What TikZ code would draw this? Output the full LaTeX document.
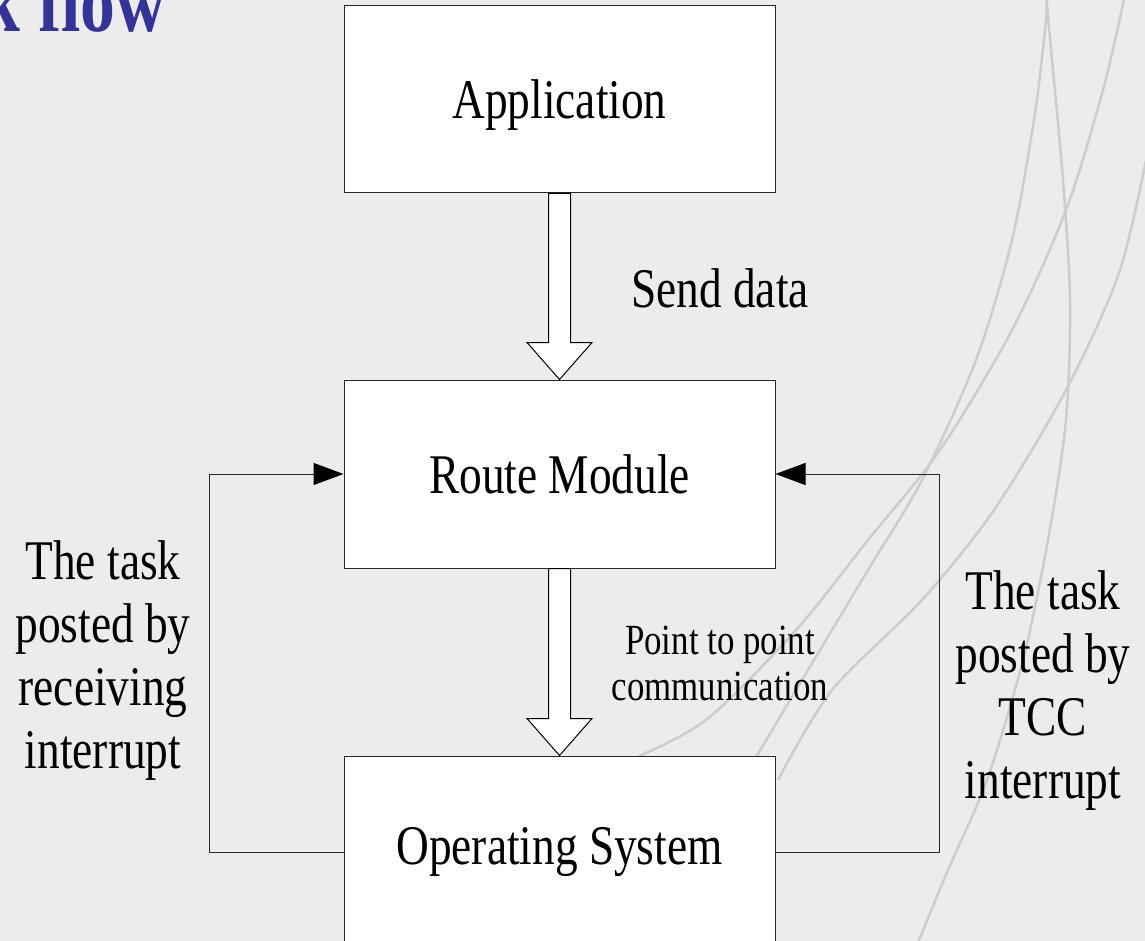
\documentclass[tikz,border=0pt]{standalone}
\usepackage{fontspec}
\setmainfont{Liberation Serif}[FakeStretch=0.81]
\usetikzlibrary{arrows.meta,calc}
\definecolor{bgcol}{RGB}{236,236,236}
\definecolor{curvecol}{RGB}{205,205,205}
\definecolor{titleblue}{RGB}{51,51,153}
\definecolor{linecol}{RGB}{40,40,40}
\tikzset{
  box/.style={draw=linecol, line width=1pt, fill=white, minimum width=431pt, inner sep=0pt,
    font=\fontsize{56}{63}\selectfont},
  lbl/.style={align=center, inner sep=0pt, font=\fontsize{56}{63}\selectfont},
  smalllbl/.style={align=center, inner sep=0pt, font=\fontsize{43}{46}\selectfont},
  blockarrow/.style={draw=black, line width=1pt, fill=white, line join=miter},
  conn/.style={draw=linecol, line width=1pt, -{Triangle[length=30pt,width=22pt,fill=black,color=black]}},
  bgcurve/.style={draw=curvecol, line width=2.5pt}
}
\begin{document}
\begin{tikzpicture}[x=1pt,y=-1pt]
\clip (0,0) rectangle (1145,941);
\fill[bgcol] (0,0) rectangle (1145,941);
% background curves
\draw[bgcurve] plot[smooth] coordinates {(1046,-5) (1052,60) (1063,180) (1070,300) (1066,420) (1048,540) (1023,660) (987,780) (948,870) (915,950)};
\draw[bgcurve] plot[smooth] coordinates {(1047,-5) (1045,30) (1034,120) (1012,240) (976,360) (922,480) (868,570) (796,690) (742,780) (700,840)};
\draw[bgcurve] plot[smooth] coordinates {(1125,-5) (1103,90) (1066,210) (1012,330) (940,450) (868,540) (796,630) (706,720) (630,760)};
\draw[bgcurve] plot[smooth] coordinates {(1150,140) (1120,270) (1066,390) (994,510) (922,600) (832,690) (778,780)};
% title
\node[anchor=base east, inner sep=0pt, text=titleblue, font=\bfseries\fontsize{86}{86}\selectfont] (title) at (166,32) {k flow};
% boxes
\node[box, minimum height=187pt, text depth=0pt] (app) at (559.5,99.5) {Application};
\node[box, minimum height=188pt] (route) at (559.5,474) {Route Module};
\node[box, minimum height=192pt] (os) at (559.5,852) {Operating System};
% block arrows
\draw[blockarrow] ([xshift=-11pt]app.south) -- ([xshift=-11pt,yshift=37pt]route.north)
  -- ([xshift=-32.5pt,yshift=37pt]route.north) -- (route.north)
  -- ([xshift=32.5pt,yshift=37pt]route.north) -- ([xshift=11pt,yshift=37pt]route.north)
  -- ([xshift=11pt]app.south) -- cycle;
\draw[blockarrow] ([xshift=-11pt]route.south) -- ([xshift=-11pt,yshift=37pt]os.north)
  -- ([xshift=-32.5pt,yshift=37pt]os.north) -- (os.north)
  -- ([xshift=32.5pt,yshift=37pt]os.north) -- ([xshift=11pt,yshift=37pt]os.north)
  -- ([xshift=11pt]route.south) -- cycle;
% side connectors
\coordinate (lx) at (209,474);
\coordinate (rx) at (939,474);
\draw[conn] (os.west) -- (os.west -| lx) -- (lx) -- (route.west);
\draw[conn] (os.east) -- (os.east -| rx) -- (rx) -- (route.east);
% labels
\node[lbl] (send) at (720,288) {Send data};
\node[smalllbl] (p2p) at (720,663) {Point to point\\communication};
\node[lbl] (ltxt) at (103,661) {The task\\posted by\\receiving\\interrupt};
\node[lbl] (rtxt) at (1043,691) {The task\\posted by\\TCC\\interrupt};
\end{tikzpicture}
\end{document}
